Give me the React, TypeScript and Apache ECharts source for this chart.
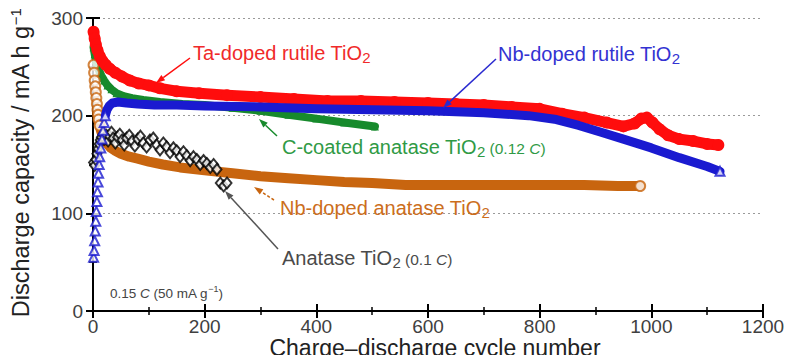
import React, { useEffect, useRef } from 'react';
import * as echarts from 'echarts';

const FONT = '"Liberation Sans", Arial, Helvetica, sans-serif';

const X_MAX = 1200;
const X_INTERVAL = 200;
const Y_MAX = 300;
const Y_INTERVAL = 100;

const RED = '#ff0d0d';
const BLUE = '#1a1ad0';
const GREEN = '#178a2c';
const ORANGE = '#c8650f';
const BLACK = '#000000';

// Ta-doped rutile TiO2 [cycle, capacity]
const taRutile: number[][] = [
  [1, 286], [3, 279], [5, 273], [8, 267], [12, 261], [17, 256], [23, 252], [30, 248], [40, 244],
  [52, 240], [66, 236], [82, 233], [100, 231], [120, 228], [150, 225], [190, 223], [240, 221],
  [300, 219], [360, 217], [420, 215], [480, 215], [540, 214], [600, 213], [650, 212], [700, 211],
  [750, 209], [800, 207], [840, 202], [880, 198], [920, 193], [950, 189], [970, 192], [982, 197],
  [992, 198], [1002, 193], [1015, 186], [1030, 180], [1050, 176], [1075, 174], [1100, 171], [1120, 170],
];

// Nb-doped rutile TiO2
const nbRutile: number[][] = [
  [1, 55], [2, 62], [3, 72], [4, 82], [5, 92], [6, 102], [7, 112], [8, 122], [9, 132], [10, 141],
  [11, 150], [12, 158], [14, 167], [16, 176], [18, 185], [20, 193], [22, 200], [25, 206], [29, 210],
  [35, 213], [45, 214], [60, 213], [80, 212], [110, 211], [150, 211], [200, 210], [300, 209],
  [400, 207], [500, 206], [600, 205], [700, 203], [780, 200], [830, 196], [870, 190], [910, 183],
  [950, 176], [1000, 167], [1050, 157], [1100, 148], [1123, 143],
];

// C-coated anatase TiO2 (0.12 C)
const cAnatase: number[][] = [
  [1, 270], [3, 263], [5, 257], [8, 251], [11, 246], [15, 241], [20, 236], [26, 231], [33, 227],
  [42, 223], [55, 220], [70, 218], [90, 216], [120, 214], [160, 212], [200, 211], [250, 208],
  [300, 205], [350, 201], [400, 197], [450, 193], [505, 189],
];

// Nb-doped anatase TiO2
const nbAnatase: number[][] = [
  [1, 252], [2, 244], [3, 236], [4, 230], [5, 224], [6, 218], [7, 212], [8, 206], [9, 201], [10, 196],
  [12, 190], [14, 185], [17, 180], [21, 175], [26, 171], [32, 167], [40, 164], [50, 161], [65, 158],
  [80, 156], [100, 153], [125, 150], [156, 147], [200, 144], [250, 141], [300, 138], [350, 136],
  [400, 134], [450, 132], [500, 131], [560, 129], [640, 129], [720, 129], [800, 129], [880, 129],
  [940, 128], [980, 128],
];

// Anatase TiO2 (0.1 C)
const anatase: number[][] = [
  [1, 152], [3, 149], [5, 155], [7, 161], [9, 166], [11, 171], [13, 175], [15, 178], [18, 181],
  [21, 176], [24, 180], [27, 174], [30, 179], [33, 183], [36, 177], [40, 172], [44, 178], [48, 181],
  [52, 175], [56, 170], [60, 177], [65, 180], [70, 174], [75, 169], [80, 176], [85, 179], [90, 172],
  [96, 168], [102, 175], [108, 177], [114, 170], [120, 165], [126, 172], [132, 168], [138, 162],
  [144, 167], [150, 164], [156, 158], [162, 163], [168, 159], [174, 154], [180, 158], [186, 155],
  [192, 150], [198, 154], [204, 151], [210, 147], [216, 150], [222, 145], [228, 131], [234, 128],
  [240, 131],
];

type Ann = { text: string; x: number; y: number; color: string };
const annotations: Ann[] = [
  { text: '{m|Ta-doped rutile TiO}{s|2}', x: 193, y: 53, color: '#f02a2a' },
  { text: '{m|Nb-doped rutile TiO}{s|2}', x: 498, y: 54, color: '#3333d2' },
  { text: '{m|C-coated anatase TiO}{s|2}{p| (0.12 }{i|C}{p|)}', x: 282, y: 147, color: '#2f9a45' },
  { text: '{m|Nb-doped anatase TiO}{s|2}', x: 280, y: 208, color: '#cc6e1c' },
  { text: '{m|Anatase TiO}{s|2}{p| (0.1 }{i|C}{p|)}', x: 282, y: 258, color: '#4a4a4a' },
];

type Arrow = { x1: number; y1: number; x2: number; y2: number; color: string; dashed?: boolean };
const arrows: Arrow[] = [
  { x1: 190, y1: 58, x2: 156, y2: 83, color: RED },
  { x1: 496, y1: 59, x2: 443, y2: 108, color: '#2a2ad0' },
  { x1: 277, y1: 136, x2: 259, y2: 119, color: GREEN },
  { x1: 274, y1: 200, x2: 254, y2: 187, color: ORANGE, dashed: true },
  { x1: 278, y1: 249, x2: 225, y2: 191, color: '#555555' },
];

function arrowEls(a: Arrow) {
  const ang = Math.atan2(a.y2 - a.y1, a.x2 - a.x1);
  const L = 9;
  const W = 3.2;
  const c = Math.cos(ang);
  const s = Math.sin(ang);
  const bx = a.x2 - L * c;
  const by = a.y2 - L * s;
  return [
    {
      type: 'line',
      shape: { x1: a.x1, y1: a.y1, x2: bx, y2: by },
      style: { stroke: a.color, lineWidth: 1.5, lineDash: a.dashed ? [3, 2] : null },
      z: 100,
    },
    {
      type: 'polygon',
      shape: { points: [[a.x2, a.y2], [bx + W * s, by - W * c], [bx - W * s, by + W * c]] },
      style: { fill: a.color },
      z: 100,
    },
  ];
}

function annEl(a: Ann) {
  return {
    type: 'text',
    x: a.x,
    y: a.y,
    z: 100,
    style: {
      text: a.text,
      align: 'left',
      verticalAlign: 'middle',
      textAlign: 'left',
      textVerticalAlign: 'middle',
      rich: {
        m: { fontSize: 20, fontFamily: FONT, fill: a.color, lineHeight: 24 },
        s: { fontSize: 15, fontFamily: FONT, fill: a.color, lineHeight: 15, verticalAlign: 'bottom' },
        p: { fontSize: 15.5, fontFamily: FONT, fill: a.color, verticalAlign: 'bottom', padding: [0, 0, 3, 0] },
        i: { fontSize: 15.5, fontFamily: FONT, fill: a.color, fontStyle: 'italic', verticalAlign: 'bottom', padding: [0, 0, 3, 0] },
      },
    },
  };
}

const fmt = (v: number) => String(v);

function axisCommon(show: boolean) {
  return {
    axisLine: { show: true, lineStyle: { color: '#000', width: 2 } },
    axisTick: { show: true, inside: true, length: 7, lineStyle: { color: '#000', width: 2 } },
    minorTick: { show: true, splitNumber: 2, length: 4, lineStyle: { color: '#000', width: 1.5 } },
    axisLabel: { show, fontSize: 19, color: '#404040', fontFamily: FONT, formatter: fmt },
  };
}

export default function App() {
  const ref = useRef<HTMLDivElement>(null);
  useEffect(() => {
    document.body.style.margin = '0';
    if (!ref.current) return;
    const chart = echarts.init(ref.current, undefined, { renderer: 'svg' });
    const lastOf = (d: number[][]) => d[d.length - 1];
    const option: any = {
      animation: false,
      backgroundColor: '#fff',
      grid: { left: 93, right: 25, top: 18, bottom: 44 },
      xAxis: [
        {
          type: 'value', min: 0, max: X_MAX, interval: X_INTERVAL, position: 'bottom',
          ...axisCommon(true),
          axisLabel: { show: true, fontSize: 19, color: '#404040', fontFamily: FONT, margin: 6, formatter: fmt },
          splitLine: { show: false },
        },
        {
          type: 'value', min: 0, max: X_MAX, interval: X_INTERVAL, position: 'top',
          ...axisCommon(false),
          splitLine: { show: false },
        },
      ],
      yAxis: [
        {
          type: 'value', min: 0, max: Y_MAX, interval: Y_INTERVAL, position: 'left',
          ...axisCommon(true),
          axisLabel: { show: true, fontSize: 19, color: '#404040', fontFamily: FONT, margin: 10, formatter: fmt },
          splitLine: { show: true, lineStyle: { type: [2, 3], color: '#9a9a9a', width: 1 } },
        },
        {
          type: 'value', min: 0, max: Y_MAX, interval: Y_INTERVAL, position: 'right',
          ...axisCommon(false),
          splitLine: { show: false },
        },
      ],
      series: [
        {
          name: 'C-coated anatase TiO2', type: 'line', data: cAnatase,
          symbol: 'triangle', symbolSize: 8, showSymbol: true,
          itemStyle: { color: GREEN },
          lineStyle: { color: GREEN, width: 8, cap: 'round', join: 'round' },
          z: 2,
        },
        {
          name: 'Nb-doped anatase band', type: 'line', data: nbAnatase.filter((p) => p[0] >= 9),
          symbol: 'none',
          lineStyle: { color: ORANGE, width: 10, cap: 'round', join: 'round' },
          z: 3,
        },
        {
          name: 'Nb-doped anatase TiO2', type: 'scatter',
          data: nbAnatase.filter((p) => p[0] < 14).concat([lastOf(nbAnatase)]),
          symbol: 'emptyCircle', symbolSize: 10,
          itemStyle: { color: ORANGE, borderColor: ORANGE, borderWidth: 1.2 },
          z: 3,
        },
        {
          name: 'Anatase TiO2', type: 'scatter', data: anatase,
          symbol: 'emptyDiamond', symbolSize: [9, 11],
          itemStyle: { color: BLACK, borderColor: BLACK, borderWidth: 1 },
          z: 4,
        },
        {
          name: 'Ta-doped rutile TiO2', type: 'line', data: taRutile,
          symbol: 'circle', symbolSize: 12, showSymbol: true,
          itemStyle: { color: RED },
          lineStyle: { color: RED, width: 11, cap: 'round', join: 'round' },
          z: 5,
        },
        {
          name: 'Nb-doped rutile band', type: 'line', data: nbRutile.filter((p) => p[0] >= 22),
          symbol: 'none',
          lineStyle: { color: BLUE, width: 9, cap: 'round', join: 'round' },
          z: 6,
        },
        {
          name: 'Nb-doped rutile TiO2', type: 'scatter',
          data: nbRutile.filter((p) => p[0] < 25).concat([lastOf(nbRutile)]),
          symbol: 'emptyTriangle', symbolSize: 9,
          itemStyle: { color: BLUE, borderColor: BLUE, borderWidth: 1.2 },
          z: 6,
        },
      ],
      graphic: [
        ...arrows.flatMap(arrowEls),
        ...annotations.map(annEl),
        {
          type: 'text', x: 110, y: 293, z: 100,
          style: {
            text: '{s|0.15 }{i|C}{s| (50 mA g}{u|−1}{s|)}',
            align: 'left', verticalAlign: 'middle', textAlign: 'left', textVerticalAlign: 'middle',
            rich: {
              s: { fontSize: 13.5, fontFamily: FONT, fill: '#444', lineHeight: 18 },
              i: { fontSize: 13.5, fontFamily: FONT, fill: '#444', lineHeight: 18, fontStyle: 'italic' },
              u: { fontSize: 9, fontFamily: FONT, fill: '#444', lineHeight: 10, verticalAlign: 'top' },
            },
          },
        },
        {
          type: 'text', x: 21, y: 163, rotation: Math.PI / 2, z: 100,
          style: {
            text: '{m|Discharge capacity / mA h g}{u|−1}',
            align: 'center', verticalAlign: 'middle', textAlign: 'center', textVerticalAlign: 'middle',
            rich: {
              m: { fontSize: 23.5, fontFamily: FONT, fill: '#222', lineHeight: 27 },
              u: { fontSize: 15, fontFamily: FONT, fill: '#222', lineHeight: 15, verticalAlign: 'top' },
            },
          },
        },
        {
          type: 'text', x: 435, y: 348, z: 100,
          style: {
            text: 'Charge–discharge cycle number',
            fontSize: 23, fontFamily: FONT, fill: '#222',
            align: 'center', verticalAlign: 'middle', textAlign: 'center', textVerticalAlign: 'middle',
          },
        },
      ],
    };
    chart.setOption(option);
    return () => chart.dispose();
  }, []);
  return <div ref={ref} style={{ width: 788, height: 355 }} />;
}
